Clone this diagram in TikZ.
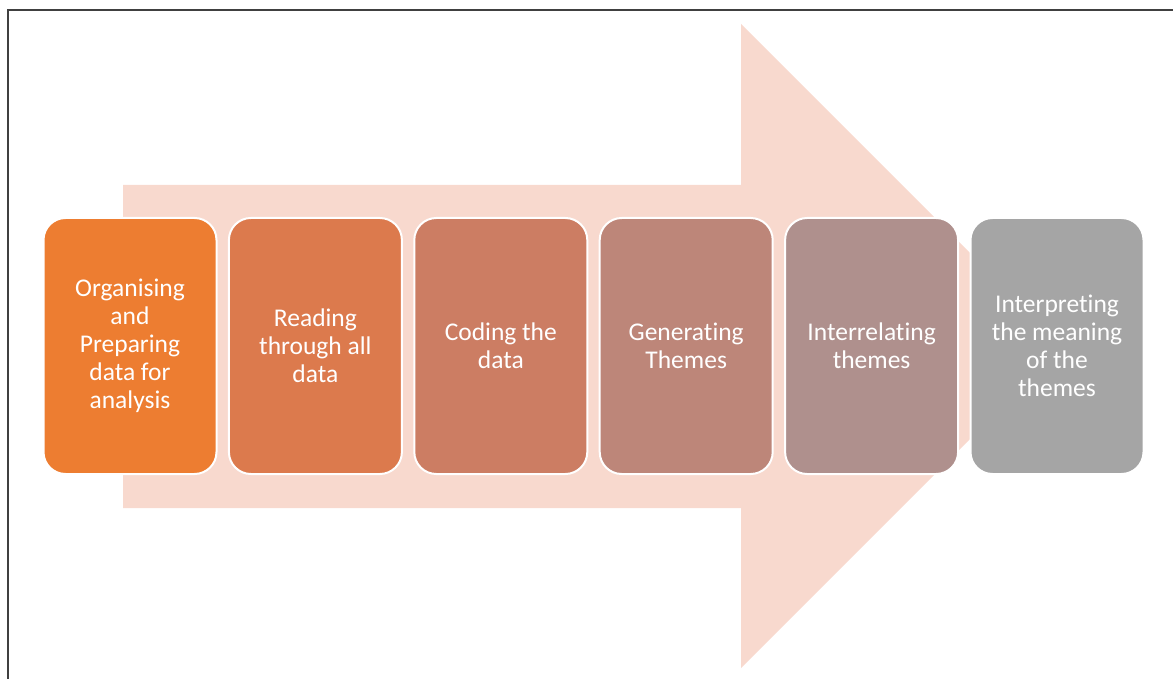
\documentclass[tikz,border=0pt]{standalone}
\usepackage{fontspec}
\setmainfont{Carlito}[Ligatures=NoCommon]
\usepackage{xcolor}
\usetikzlibrary{positioning}

\definecolor{stageA}{HTML}{ED7D31}
\definecolor{stageB}{HTML}{DC7A4D}
\definecolor{stageC}{HTML}{CC7D63}
\definecolor{stageD}{HTML}{BD8679}
\definecolor{stageE}{HTML}{AF908D}
\definecolor{stageF}{HTML}{A5A5A5}
\definecolor{flowfill}{HTML}{F8D9CE}

\begin{document}
\begin{tikzpicture}[x=1pt, y=-1pt, node distance=10.4pt,
  stage/.style={draw=white, line width=2pt, rounded corners=22pt, align=center, text=white,
    font=\fontsize{25.5}{28}\selectfont, minimum width=173pt, minimum height=256pt, inner sep=0pt}]
  \useasboundingbox (0,0) rectangle (1173,679);
  \draw[line width=2pt, black!75] (7.5,679) -- (7.5,10.5) -- (1173,10.5);
  % wide arrow behind the steps
  \fill[flowfill] (123,185) -- (741,185) -- (741,24) -- (1063,346) -- (741,668) -- (741,508) -- (123,508) -- cycle;
  \node[stage, fill=stageA] (organise) at (130,346) {Organising\\and\\Preparing\\data for\\analysis};
  \node[stage, fill=stageB, right=of organise] (read) {Reading\\through all\\data};
  \node[stage, fill=stageC, right=of read] (code) {Coding the\\data};
  \node[stage, fill=stageD, right=of code] (themes) {Generating\\Themes};
  \node[stage, fill=stageE, right=of themes] (relate) {Interrelating\\themes};
  \node[stage, fill=stageF, right=of relate] (interpret) {Interpreting\\the meaning\\of the\\themes};
\end{tikzpicture}
\end{document}
